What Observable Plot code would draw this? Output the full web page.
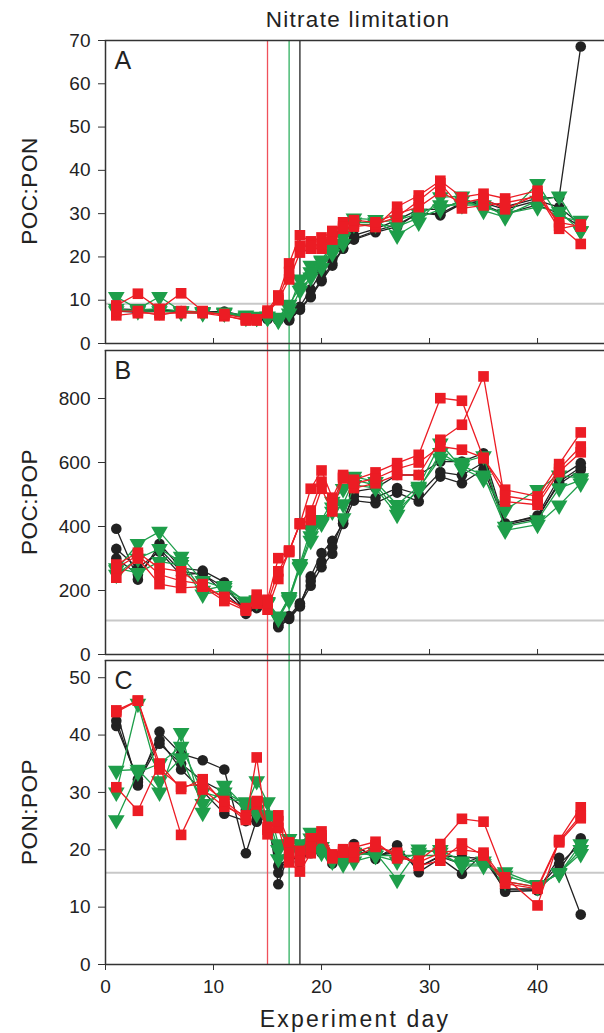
<!DOCTYPE html>
<html><head><meta charset="utf-8">
<script src="https://cdn.jsdelivr.net/npm/d3@7"></script>
<script src="https://cdn.jsdelivr.net/npm/@observablehq/plot@0.6"></script>
<style>
body{margin:0;background:#fff;font-family:"Liberation Sans",Arial,sans-serif;}
#wrap{position:relative;width:604px;height:1033px;overflow:hidden;background:#fff}
#plots svg{display:block}
.lbl{position:absolute;color:#222;white-space:nowrap;line-height:1}
#title{left:0;width:716px;top:9px;text-align:center;font-size:22.5px;letter-spacing:1.3px}
#xlab{left:105px;width:500px;top:1008px;text-align:center;font-size:23px;letter-spacing:2.2px}
.ylab{font-size:22.5px;letter-spacing:0.5px;transform:translate(-50%,-50%) rotate(-90deg);left:30px}
</style></head><body>
<div id="wrap"><div id="plots"></div>
<div class="lbl" id="title">Nitrate limitation</div>
<div class="lbl" id="xlab">Experiment day</div>
<div class="lbl ylab" style="top:191px">POC:PON</div>
<div class="lbl ylab" style="top:502px">POC:POP</div>
<div class="lbl ylab" style="top:812px">PON:POP</div>
</div>
<script>
// sampling days
const days = [1,3,5,7,9,11,13,14,15,16,17,18,19,20,21,22,23,25,27,29,31,33,35,37,40,42,44];
const limitDays = [15,17,18];
const limitColors = ["#f0505a","#30b060","#222222"];
const groupColors = {black:"#222222", green:"#1e9e4a", red:"#ec1c24"};
const xTicks = [0,10,20,30,40];

// Panel A: POC:PON
const pocPonBlack = [
 [8.0,7.8,7.8,7.5,7.3,7.4,6.3,6.0,5.8,5.5,5.3,7.8,10.7,14.4,18.0,21.9,24.0,25.7,27.0,30.3,29.6,32.3,33.0,31.6,33.5,33.8,68.6],
 [7.5,7.2,7.5,7.2,7.0,7.0,6.0,5.8,5.6,5.4,5.8,8.5,12.5,16.5,19.5,23.0,25.0,26.5,28.5,31.0,31.0,33.0,32.0,30.0,32.0,30.0,27.0],
 [7.8,7.5,7.6,7.4,7.2,7.2,6.2,5.9,5.7,5.6,5.5,8.0,11.0,14.8,18.5,22.0,24.2,26.0,27.5,30.0,30.0,32.5,32.5,31.0,33.0,31.5,27.5]];
const pocPonGreen = [
 [10.8,8.0,10.8,7.5,7.3,7.0,6.0,6.0,6.0,5.3,8.1,14.8,18.0,19.2,23.0,24.5,28.9,28.6,25.0,28.0,33.8,34.0,30.7,29.2,36.9,29.2,28.4],
 [8.0,7.5,7.5,7.2,7.2,7.0,6.2,6.0,6.0,5.5,7.0,12.2,15.3,17.5,20.8,23.0,27.5,27.5,27.0,29.0,31.0,33.0,31.5,30.0,31.5,30.5,26.0],
 [7.5,7.8,8.0,7.5,7.0,7.2,6.5,6.2,6.3,6.0,9.0,13.0,16.5,19.0,22.0,25.0,28.0,28.0,28.5,30.0,32.0,32.0,32.0,29.5,33.0,34.0,26.0]];
const pocPonRed = [
 [8.8,11.5,8.0,11.6,7.5,6.5,5.3,5.3,7.6,11.1,18.5,25.0,23.6,24.5,25.7,28.0,27.7,26.9,31.6,34.2,37.6,33.8,34.6,33.5,35.3,27.2,23.0],
 [6.5,7.0,7.0,7.0,7.0,6.3,5.5,5.5,7.0,10.0,14.8,21.0,21.9,21.9,24.0,26.5,27.0,27.5,29.2,33.0,37.0,31.2,31.9,32.5,34.0,28.0,27.0],
 [7.5,7.5,6.5,7.5,7.2,6.8,5.8,5.6,7.2,10.5,16.5,22.5,22.5,23.0,26.0,27.0,28.5,28.0,30.0,31.5,35.0,32.5,33.5,31.0,34.5,26.5,27.5]];

// Panel B: POC:POP
const pocPopBlack = [
 [393,234,346,270,262,226,127,147,150,85,111,150,244,317,355,410,509,520,561,561,603,603,629,408,434,553,598],
 [330,270,322,248,255,192,135,145,155,90,115,155,215,273,315,408,481,473,506,478,556,535,579,410,430,533,577],
 [300,250,330,260,250,210,140,150,160,95,120,160,230,290,335,420,495,490,520,500,570,560,600,405,425,540,585]];
const pocPopGreen = [
 [264,346,384,306,230,208,166,170,165,119,176,283,390,421,478,518,556,540,468,525,660,582,549,452,515,560,551],
 [270,255,290,280,188,200,160,165,160,112,170,271,356,410,447,426,530,520,437,520,613,600,620,388,406,466,535],
 [250,300,330,290,200,215,165,168,162,115,180,275,370,415,460,470,545,530,450,515,630,590,560,400,420,520,545]];
const pocPopRed = [
 [281,318,270,260,212,167,137,187,171,301,325,408,518,575,490,561,546,569,598,624,801,793,613,515,494,595,694],
 [240,300,220,208,212,180,140,159,140,236,323,408,420,518,447,550,520,535,561,561,671,718,869,478,468,570,632],
 [270,310,250,230,220,175,145,170,160,260,320,410,450,540,470,555,535,550,580,600,650,640,615,495,480,580,650]];

// Panel C: PON:POP
const ponPopBlack = [
 [44.2,31.2,40.6,36.7,35.6,34.0,19.4,25.3,26.0,14.0,19.5,17.8,19.8,21.9,17.6,19.0,21.0,18.4,20.8,16.1,18.5,15.8,19.4,12.7,12.9,18.6,8.7],
 [41.6,32.3,39.1,34.0,30.2,26.3,25.0,24.9,25.6,17.2,18.5,18.5,19.4,19.5,18.5,18.5,20.5,19.0,19.5,17.0,19.0,18.7,18.5,13.0,13.0,16.5,22.0],
 [42.5,31.8,38.5,35.0,32.0,30.0,27.0,25.0,25.8,16.0,19.0,18.0,20.0,20.5,18.0,19.0,20.0,18.8,20.0,17.0,18.8,17.5,19.0,13.2,13.2,17.5,21.0]];
const ponPopGreen = [
 [33.8,34.0,30.0,40.4,26.5,31.2,27.4,32.0,28.3,21.0,21.9,21.0,23.0,20.0,19.0,17.5,19.0,19.5,14.8,20.1,19.5,17.2,17.2,16.1,13.9,15.8,21.0],
 [25.2,33.5,35.0,38.0,30.0,29.0,28.3,26.2,25.4,18.4,20.0,19.5,21.0,19.5,18.0,18.0,18.0,19.0,18.0,19.5,20.0,18.0,18.0,14.5,13.5,16.0,19.3],
 [30.0,45.5,32.0,36.0,28.0,30.0,28.0,27.0,26.0,20.0,21.0,20.0,22.0,20.5,18.5,18.2,19.5,19.0,19.0,19.0,19.0,17.5,17.5,15.5,13.8,15.9,20.0]];
const ponPopRed = [
 [44.3,46.0,35.0,30.6,32.3,28.0,25.2,36.1,22.7,26.0,21.3,19.8,22.0,23.2,19.2,20.1,20.4,21.4,18.5,18.1,21.0,25.4,24.9,15.2,10.3,21.7,27.4],
 [30.9,26.8,35.0,22.6,30.5,27.5,26.0,27.9,23.5,23.8,17.8,16.2,19.4,22.0,18.5,19.5,18.7,20.5,19.5,17.2,18.1,21.1,19.0,14.1,13.2,21.3,25.5],
 [44.0,46.0,34.0,31.0,31.5,28.5,25.5,28.5,24.0,25.0,19.5,18.0,20.5,22.5,19.0,19.8,19.5,20.8,19.0,17.8,19.5,20.0,19.5,14.5,13.5,21.5,26.0]];

// reference lines and axes
const refA = 9.2, refB = 106, refC = 16;
const ticksA = [0,10,20,30,40,50,60,70];
const ticksB = [0,200,400,600,800];
const ticksC = [0,10,20,30,40,50];

function rows(reps){ const out=[]; reps.forEach((arr,r)=>arr.forEach((v,i)=>out.push({day:days[i],v,rep:r}))); return out; }

const symbolOf = {black:"circle", green:"triangle", red:"square"};
const rOf = {black:5.3, green:6.2, red:6.0};

function panel(series, cfg){
  const marks = [
    Plot.ruleY([cfg.ref], {stroke:"#c8c8c8", strokeWidth:2}),
    ...limitDays.map((d,i)=>Plot.ruleX([d], {stroke:limitColors[i], strokeWidth:1.3, insetTop:-cfg.extTop, insetBottom:-cfg.extBottom})),
  ];
  for (const g of ["black","green","red"]) {
    const data = rows(series[g]);
    marks.push(Plot.line(data, {x:"day", y:"v", z:"rep", stroke:groupColors[g], strokeWidth:1.3}));
    marks.push(Plot.dot(data, {x:"day", y:"v", symbol:symbolOf[g], r:rOf[g], fill:groupColors[g], stroke:"none", rotate: g==="green"?180:0}));
  }
  marks.push(
    Plot.ruleX([0], {stroke:"#333", strokeWidth:1.5}),
    Plot.ruleY([0], {stroke:"#333", strokeWidth:1.5}),
    Plot.frame({anchor:"top", stroke:"#333", strokeWidth:1.5}),
    Plot.axisY({ticks:cfg.yTicks, tickSize:7, tickPadding:8, fontSize:19, label:null, stroke:"#333"}),
    cfg.xLabels
      ? Plot.axisX({ticks:xTicks, tickSize:6, tickPadding:9, fontSize:19, label:null, stroke:"#333"})
      : Plot.axisX({ticks:xTicks, tickSize:-5, tickFormat:()=>"", label:null, stroke:"#333"}),
    Plot.text([cfg.letter], {frameAnchor:"top-left", dx:9, dy:11, textAnchor:"start", lineAnchor:"top", fontSize:25, fill:"#222"})
  );
  return Plot.plot({
    width:604, height:cfg.height,
    marginLeft:105, marginRight:0, marginTop:cfg.mt, marginBottom:cfg.mb,
    x:{domain:[0,46.2]},
    y:{domain:cfg.yDomain},
    style:{fontFamily:"'Liberation Sans', Arial, sans-serif", fontSize:"19px", color:"#222", background:"white", overflow:"visible"},
    marks
  });
}

const host = document.getElementById("plots");
host.append(panel({black:pocPonBlack, green:pocPonGreen, red:pocPonRed},
  {ref:refA, yTicks:ticksA, yDomain:[0,70], height:347, mt:40, mb:4, extTop:0, extBottom:4, xLabels:false, letter:"A"}));
host.append(panel({black:pocPopBlack, green:pocPopGreen, red:pocPopRed},
  {ref:refB, yTicks:ticksB, yDomain:[0,950], height:310, mt:3, mb:3, extTop:3, extBottom:3, xLabels:false, letter:"B"}));
host.append(panel({black:ponPopBlack, green:ponPopGreen, red:ponPopRed},
  {ref:refC, yTicks:ticksC, yDomain:[0,53], height:376, mt:3, mb:69, extTop:3, extBottom:0, xLabels:true, letter:"C"}));
</script>
</body></html>
